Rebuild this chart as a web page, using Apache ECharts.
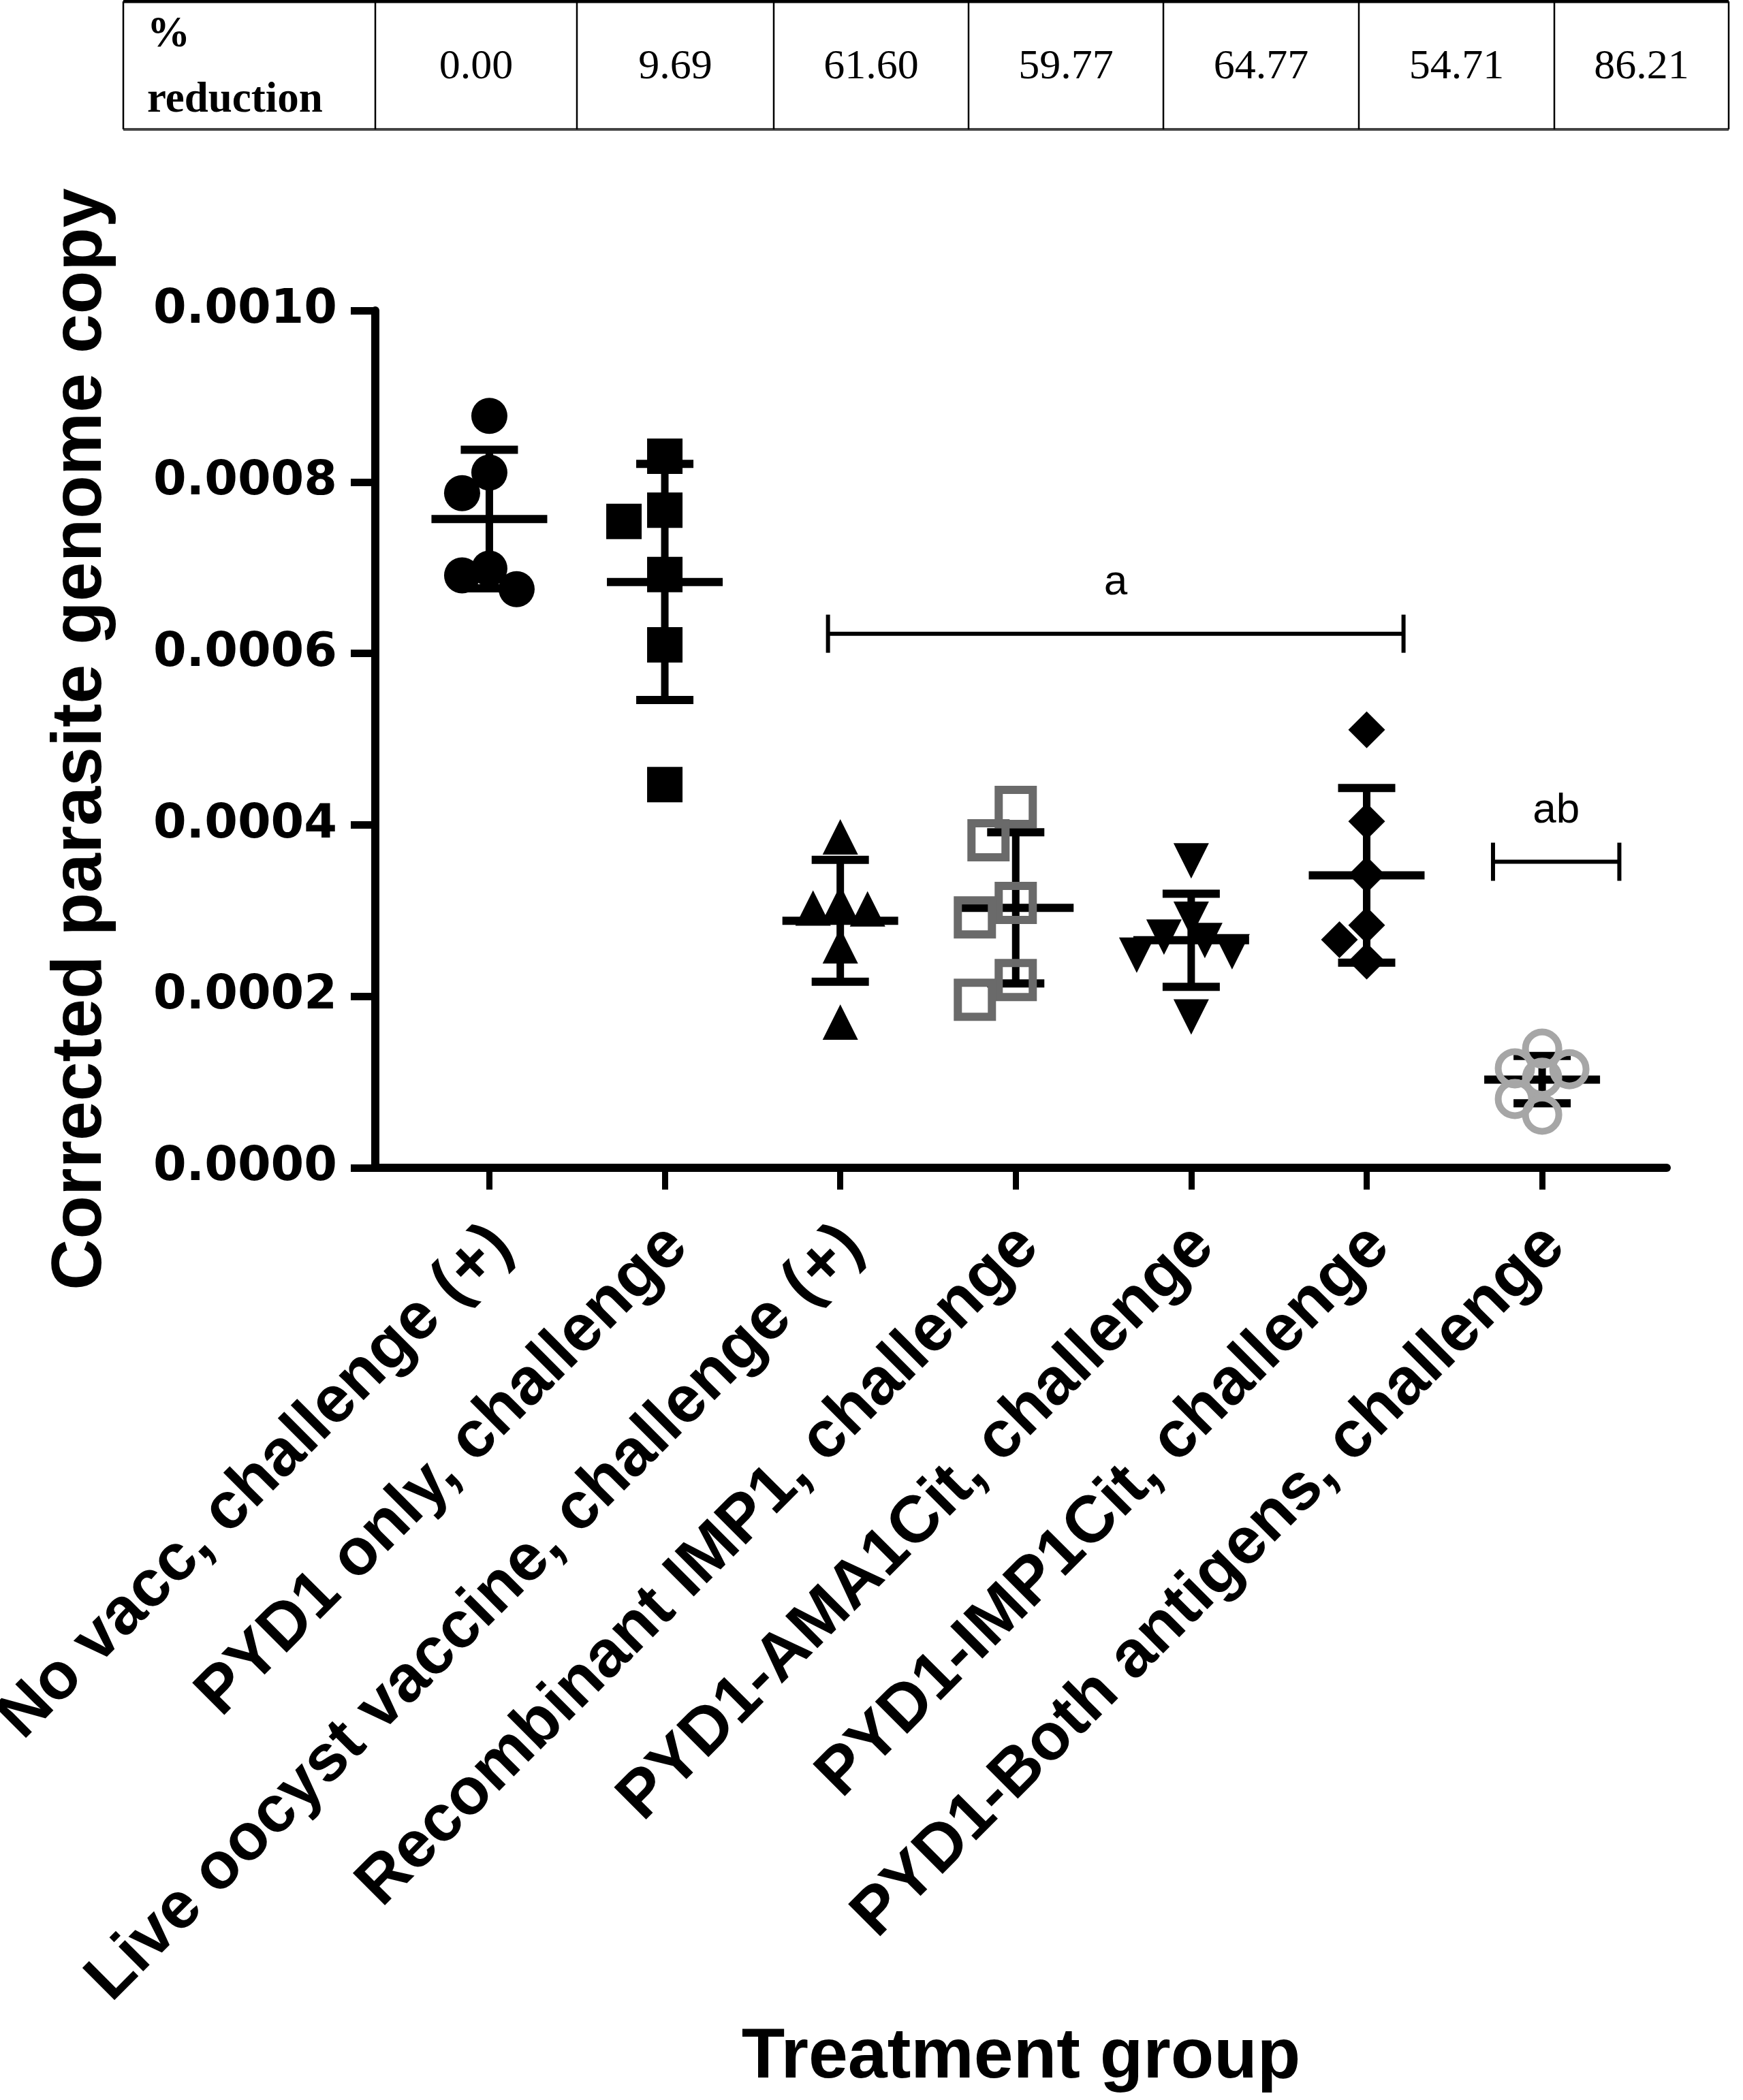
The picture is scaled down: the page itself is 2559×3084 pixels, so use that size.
<!DOCTYPE html>
<html>
<head>
<meta charset="utf-8">
<script src="https://cdn.jsdelivr.net/npm/echarts@6/dist/echarts.min.js"></script>
<style>
  html, body { margin: 0; padding: 0; background: #fff; }
  #chart { width: 2559px; height: 3084px; }
</style>
</head>
<body>
<div id="chart"></div>
<script>
// 分组名称
var groupNames = [
  'No vacc, challenge (+)',
  'PYD1 only, challenge',
  'Live oocyst vaccine, challenge (+)',
  'Recombinant IMP1, challenge',
  'PYD1-AMA1Cit, challenge',
  'PYD1-IMP1Cit, challenge',
  'PYD1-Both antigens, challenge'
];
// 表格: % reduction
var reductionPct = ['0.00', '9.69', '61.60', '59.77', '64.77', '54.71', '86.21'];

// 每组的数据点 (corrected parasite genome copy)
var noVacc     = [0.000877, 0.000811, 0.000787, 0.000699, 0.000691, 0.000675];
var pyd1Only   = [0.000830, 0.000767, 0.000754, 0.000692, 0.000610, 0.000447];
var liveOocyst = [0.000386, 0.000309, 0.000303, 0.000302, 0.000259, 0.000170];
var recIMP1    = [0.000421, 0.000382, 0.000309, 0.000292, 0.000219, 0.000196];
var pydAMA1    = [0.000358, 0.000290, 0.000269, 0.000265, 0.000252, 0.000248, 0.000176];
var pydIMP1    = [0.000511, 0.000404, 0.000342, 0.000283, 0.000266, 0.000241];
var pydBoth    = [0.000139, 0.000116, 0.000105, 0.000115, 0.0000803, 0.0000620];
var groupValues = [noVacc, pyd1Only, liveOocyst, recIMP1, pydAMA1, pydIMP1, pydBoth];

// y轴
var yMin = 0, yMax = 0.001, yStep = 0.0002;
var xTickValues = [0, 1, 2, 3, 4, 5, 6];

// 显著性标记 (axis coordinates)
var sigBrackets = [
  { from: 1.93, to: 5.21, y: 0.000623, text: 'a' },
  { from: 5.72, to: 6.44, y: 0.000357, text: 'ab' }
];

// 符号样式 (gap = 重叠判定系数)
var markStyles = [
  { symbol: 'circle',   size: 53, rotate: 0,   fill: '#000', stroke: null, strokeW: 0, gap: 0.75 },
  { symbol: 'rect',     size: 52, rotate: 0,   fill: '#000', stroke: null, strokeW: 0, gap: 0.9 },
  { symbol: 'triangle', size: 52, rotate: 0,   fill: '#000', stroke: null, strokeW: 0, gap: 0.7 },
  { symbol: 'rect',     size: 50, rotate: 0,   fill: 'rgba(0,0,0,0)', stroke: '#6a6a6a', strokeW: 12, gap: 0.95 },
  { symbol: 'triangle', size: 52, rotate: 180, fill: '#000', stroke: null, strokeW: 0, gap: 0.7 },
  { symbol: 'diamond',  size: 54, rotate: 0,   fill: '#000', stroke: null, strokeW: 0, gap: 0.8 },
  { symbol: 'circle',   size: 49, rotate: 0,   fill: 'rgba(0,0,0,0)', stroke: '#a6a6a6', strokeW: 10, gap: 0.7 }
];

var W = 2559, H = 3084;
var grid = { left: 551, right: 112, top: 456, bottom: 1369 };
var xMin = -0.65, xMax = 6.71;
var pxPerCat = (W - grid.left - grid.right) / (xMax - xMin);
var pxPerY = (H - grid.top - grid.bottom) / (yMax - yMin);

function mean(arr) {
  return arr.reduce(function (s, v) { return s + v; }, 0) / arr.length;
}
function sampleSD(arr) {
  var m = mean(arr);
  return Math.sqrt(arr.reduce(function (s, v) { return s + (v - m) * (v - m); }, 0) / (arr.length - 1));
}

// 简单蜂群排布: 点重叠时左右错开
function swarmOffsets(values, diam, step) {
  var order = values.map(function (v, i) { return i; })
    .sort(function (a, b) { return values[b] - values[a]; });
  var placed = [], offs = [];
  order.forEach(function (i) {
    var y = values[i] * pxPerY;
    for (var k = 0; k < 80; k++) {
      var dx = k === 0 ? 0 : (k % 2 === 1 ? -1 : 1) * Math.ceil(k / 2) * step;
      var ok = placed.every(function (p) { return Math.hypot(p.x - dx, p.y - y) >= diam; });
      if (ok) { offs[i] = dx; placed.push({ x: dx, y: y }); break; }
    }
  });
  return offs;
}

var series = [];

// 均值 ± SD
var barData = groupValues.map(function (vals, i) {
  return [i, mean(vals), sampleSD(vals)];
});
series.push({
  type: 'custom',
  coordinateSystem: 'cartesian2d',
  silent: true,
  z: 2,
  clip: false,
  data: barData,
  renderItem: function (params, api) {
    var x = api.value(0), m = api.value(1), s = api.value(2);
    var c = api.coord([x, m]);
    var t = api.coord([x, m + s]);
    var b = api.coord([x, m - s]);
    var st = { stroke: '#000', lineWidth: 12 };
    return {
      type: 'group',
      children: [
        { type: 'line', shape: { x1: c[0] - 85, y1: c[1], x2: c[0] + 85, y2: c[1] }, style: st },
        { type: 'line', shape: { x1: c[0], y1: t[1], x2: c[0], y2: b[1] }, style: { stroke: '#000', lineWidth: 11 } },
        { type: 'line', shape: { x1: c[0] - 42, y1: t[1], x2: c[0] + 42, y2: t[1] }, style: st },
        { type: 'line', shape: { x1: c[0] - 42, y1: b[1], x2: c[0] + 42, y2: b[1] }, style: st }
      ]
    };
  }
});

// 数据点
groupValues.forEach(function (vals, i) {
  var ms = markStyles[i];
  var outer = ms.size + ms.strokeW;
  var offs = swarmOffsets(vals, outer * ms.gap, 20);
  series.push({
    type: 'scatter',
    name: groupNames[i],
    silent: true,
    z: 3,
    symbol: ms.symbol,
    symbolSize: ms.size,
    symbolRotate: ms.rotate,
    itemStyle: {
      color: ms.fill,
      borderColor: ms.stroke || ms.fill,
      borderWidth: ms.strokeW,
      opacity: 1
    },
    data: vals.map(function (v, j) { return [i + offs[j] / pxPerCat, v]; })
  });
});

// 显著性括号
series.push({
  type: 'custom',
  coordinateSystem: 'cartesian2d',
  silent: true,
  z: 2,
  clip: false,
  data: sigBrackets.map(function (b) { return [b.from, b.to, b.y]; }),
  renderItem: function (params, api) {
    var p1 = api.coord([api.value(0), api.value(2)]);
    var p2 = api.coord([api.value(1), api.value(2)]);
    var st = { stroke: '#000', lineWidth: 6 };
    return {
      type: 'group',
      children: [
        { type: 'line', shape: { x1: p1[0], y1: p1[1], x2: p2[0], y2: p2[1] }, style: st },
        { type: 'line', shape: { x1: p1[0], y1: p1[1] - 28, x2: p1[0], y2: p1[1] + 28 }, style: st },
        { type: 'line', shape: { x1: p2[0], y1: p2[1] - 28, x2: p2[0], y2: p2[1] + 28 }, style: st },
        {
          type: 'text',
          style: {
            x: (p1[0] + p2[0]) / 2, y: p1[1] - 75,
            text: sigBrackets[params.dataIndex].text,
            fill: '#000', align: 'center', verticalAlign: 'middle',
            font: 'normal 62px "Liberation Sans", Arial, sans-serif'
          }
        }
      ]
    };
  }
});

// 顶部表格
var colEdges = [181, 551, 847, 1136, 1422, 1708, 1995, 2282, 2538];
var tableTop = 2, tableBottom = 190;
var serifBold = 'bold 63px "Liberation Serif", "Times New Roman", serif';
var serifReg = 'normal 62px "Liberation Serif", "Times New Roman", serif';
var tableEls = [];
tableEls.push({ type: 'line', silent: true, shape: { x1: colEdges[0], y1: tableTop, x2: colEdges[8], y2: tableTop }, style: { stroke: '#000', lineWidth: 5 } });
tableEls.push({ type: 'line', silent: true, shape: { x1: colEdges[0], y1: tableBottom, x2: colEdges[8], y2: tableBottom }, style: { stroke: '#444', lineWidth: 4 } });
colEdges.forEach(function (x) {
  tableEls.push({ type: 'line', silent: true, shape: { x1: x, y1: tableTop, x2: x, y2: tableBottom }, style: { stroke: '#000', lineWidth: 2.5 } });
});
tableEls.push({ type: 'text', silent: true, style: { x: 216, y: 52, text: '%', fill: '#000', align: 'left', verticalAlign: 'middle', font: serifBold } });
tableEls.push({ type: 'text', silent: true, style: { x: 216, y: 148, text: 'reduction', fill: '#000', align: 'left', verticalAlign: 'middle', font: serifBold } });
reductionPct.forEach(function (t, i) {
  tableEls.push({
    type: 'text',
    silent: true,
    style: {
      x: (colEdges[i + 1] + colEdges[i + 2]) / 2, y: 99, text: t, fill: '#000',
      align: 'center', verticalAlign: 'middle', font: serifReg
    }
  });
});

var chart = echarts.init(document.getElementById('chart'));
chart.setOption({
  animation: false,
  backgroundColor: '#fff',
  grid: {
    left: grid.left, right: grid.right, top: grid.top, bottom: grid.bottom,
    containLabel: false,
    outerBoundsMode: 'none'
  },
  graphic: tableEls,
  xAxis: {
    type: 'value',
    min: xMin,
    max: xMax,
    name: 'Treatment group',
    nameLocation: 'middle',
    nameGap: 1255,
    nameTextStyle: { fontFamily: 'Liberation Sans', fontWeight: 'bold', fontSize: 104, color: '#000' },
    splitLine: { show: false },
    axisLine: { show: true, onZero: false, lineStyle: { color: '#000', width: 12 } },
    axisTick: { show: true, customValues: xTickValues, length: 32, lineStyle: { color: '#000', width: 9 } },
    axisLabel: {
      show: true,
      customValues: xTickValues,
      rotate: 45,
      margin: 82,
      verticalAlign: 'top',
      lineHeight: 52,
      hideOverlap: false,
      formatter: function (v) { return groupNames[Math.round(v)]; },
      fontFamily: 'Liberation Sans', fontWeight: 'bold', fontSize: 97, color: '#000'
    }
  },
  yAxis: {
    type: 'value',
    min: yMin,
    max: yMax,
    interval: yStep,
    name: 'Corrected parasite genome copy',
    nameLocation: 'middle',
    nameGap: 380,
    nameTextStyle: { fontFamily: 'Liberation Sans', fontWeight: 'bold', fontSize: 104, color: '#000' },
    splitLine: { show: false },
    axisLine: { show: true, onZero: false, lineStyle: { color: '#000', width: 12 } },
    axisTick: { show: true, length: 36, lineStyle: { color: '#000', width: 11 } },
    axisLabel: {
      margin: 56,
      formatter: function (v) { return v.toFixed(4); },
      fontFamily: 'DejaVu Sans', fontWeight: 'bold', fontSize: 70, color: '#000'
    }
  },
  series: series
});
</script>
</body>
</html>
